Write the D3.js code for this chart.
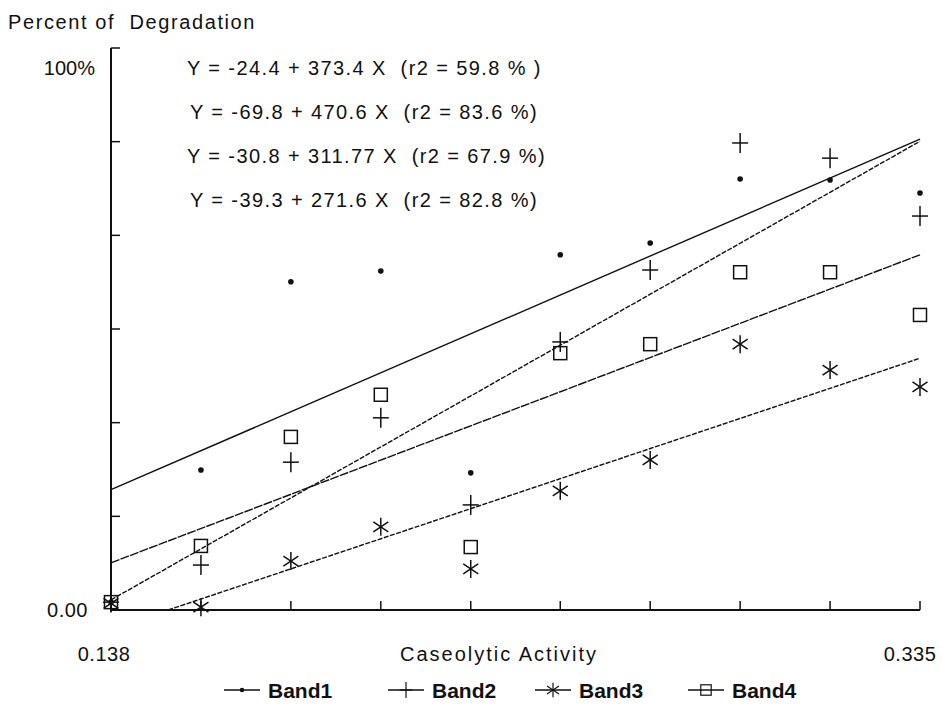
<!DOCTYPE html>
<html>
<head>
<meta charset="utf-8">
<script src="https://cdn.jsdelivr.net/npm/d3@7"></script>
<style>
  html, body { margin: 0; padding: 0; background: #fff; }
  svg { display: block; }
  text { font-family: "Liberation Sans", Arial, sans-serif; fill: #111; }
</style>
</head>
<body>
<svg id="chart" width="942" height="714"></svg>
<script>
// Caseolytic activity (x) for the ten samples
const activity = [0.138, 0.1599, 0.1818, 0.2037, 0.2256, 0.2474, 0.2693, 0.2912, 0.3131, 0.335];

// Percent of degradation per band
const band1 = [1.4, 24.9, 58.4, 60.3, 24.4, 63.2, 65.3, 76.7, 76.5, 74.2];
const band2 = [1.4, 8.0, 26.3, 34.2, 18.7, 47.7, 60.5, 83.1, 80.4, 70.1];
const band3 = [1.2, 0.5, 8.7, 14.8, 7.3, 21.2, 26.7, 47.3, 42.7, 39.7];
const band4 = [1.4, 11.4, 30.8, 38.3, 11.2, 45.7, 47.3, 60.1, 60.1, 52.5];

// Fitted regression lines: [x start, y start, x end, y end]
const fit1 = [0.138, 21.4, 0.335, 83.8];
const fit2 = [0.138, 1.8, 0.335, 83.4];
const fit3 = [0.1519, 0, 0.335, 44.8];
const fit4 = [0.138, 8.4, 0.335, 63.2];

const equations = [
  "Y = -24.4 + 373.4 X  (r2 = 59.8 % )",
  "Y = -69.8 + 470.6 X  (r2 = 83.6 %)",
  "Y = -30.8 + 311.77 X  (r2 = 67.9 %)",
  "Y = -39.3 + 271.6 X  (r2 = 82.8 %)"
];

const bandNames = ["Band1", "Band2", "Band3", "Band4"];

const svg = d3.select("#chart");
const x = d3.scaleLinear().domain([0.138, 0.335]).range([111, 920]);
const y = d3.scaleLinear().domain([0, 100]).range([610, 48]);

// ---- axes ----
const ax = svg.append("g").attr("stroke", "#111").attr("fill", "none");
ax.append("line").attr("x1", x(0.138)).attr("x2", x(0.138)).attr("y1", y(100)).attr("y2", y(0)).attr("stroke-width", 2);
ax.append("line").attr("x1", x(0.138)).attr("x2", x(0.335)).attr("y1", y(0)).attr("y2", y(0)).attr("stroke-width", 2);

const yTicks = d3.range(0, 7).map(i => i * 100 / 6);
yTicks.filter(v => v > 0).forEach(v => {
  ax.append("line").attr("x1", x(0.138)).attr("x2", x(0.138) + 9)
    .attr("y1", y(v)).attr("y2", y(v)).attr("stroke-width", 1.5);
});
activity.slice(1).forEach(v => {
  ax.append("line").attr("x1", x(v)).attr("x2", x(v))
    .attr("y1", y(0)).attr("y2", y(0) - 9).attr("stroke-width", 1.5);
});

// ---- fitted lines ----
const fits = [fit1, fit2, fit3, fit4];
const dashes = [null, "5,1.5", "5,1.5", "9,1.2"];
fits.forEach((f, i) => {
  svg.append("line")
    .attr("x1", x(f[0])).attr("y1", y(f[1]))
    .attr("x2", x(f[2])).attr("y2", y(f[3]))
    .attr("stroke", "#111").attr("stroke-width", 1.4)
    .attr("stroke-dasharray", dashes[i]);
});

// ---- markers ----
function marker(g, kind, cx, cy, sc = 1) {
  const s = g.append("g").attr("transform", `translate(${cx},${cy}) scale(${sc})`)
    .attr("stroke", "#111").attr("stroke-width", 1.5).attr("fill", "none");
  if (kind === 0) {
    s.append("circle").attr("r", 2.8).attr("fill", "#111").attr("stroke", "none");
  } else if (kind === 1) {
    s.append("line").attr("x1", -8).attr("x2", 8);
    s.append("line").attr("y1", -10).attr("y2", 10);
  } else if (kind === 2) {
    s.append("line").attr("y1", -9).attr("y2", 9);
    s.append("line").attr("x1", -7.5).attr("y1", -5).attr("x2", 7.5).attr("y2", 5);
    s.append("line").attr("x1", -7.5).attr("y1", 5).attr("x2", 7.5).attr("y2", -5);
  } else {
    s.append("rect").attr("x", -6.5).attr("y", -6.5).attr("width", 13).attr("height", 13);
  }
}

const series = [band1, band2, band3, band4];
const mk = svg.append("g");
series.forEach((vals, k) => {
  vals.forEach((v, i) => marker(mk, k, x(activity[i]), y(v)));
});

// ---- text ----
svg.append("text").attr("x", 8).attr("y", 29).attr("font-size", 20)
  .attr("letter-spacing", 1.6).style("white-space", "pre").text("Percent of  Degradation");
svg.append("text").attr("x", 95).attr("y", 75).attr("font-size", 20)
  .attr("text-anchor", "end").text("100%");
svg.append("text").attr("x", 88).attr("y", 617).attr("font-size", 20)
  .attr("text-anchor", "end").attr("letter-spacing", 0.5).text("0.00");
svg.append("text").attr("x", 104).attr("y", 661).attr("font-size", 20)
  .attr("text-anchor", "middle").attr("letter-spacing", 0.5).text("0.138");
svg.append("text").attr("x", 910).attr("y", 661).attr("font-size", 20)
  .attr("text-anchor", "middle").attr("letter-spacing", 0.5).text("0.335");
svg.append("text").attr("x", 499).attr("y", 661).attr("font-size", 20)
  .attr("text-anchor", "middle").attr("letter-spacing", 2).text("Caseolytic Activity");

const eqX = [187, 190, 187, 190];
const eqY = [75, 119, 163, 207];
equations.forEach((t, i) => {
  svg.append("text").attr("x", eqX[i]).attr("y", eqY[i]).attr("font-size", 20)
    .attr("letter-spacing", 1.4).style("white-space", "pre").text(t);
});

// ---- legend ----
const legX = [224, 388, 535, 688];
const lg = svg.append("g");
bandNames.forEach((n, i) => {
  const ly = 690;
  lg.append("line").attr("x1", legX[i]).attr("x2", legX[i] + 36)
    .attr("y1", ly).attr("y2", ly).attr("stroke", "#111").attr("stroke-width", 1.5);
  marker(lg, i, legX[i] + 18, ly, 0.8);
  lg.append("text").attr("x", legX[i] + 44).attr("y", ly + 8)
    .attr("font-size", 21).attr("font-weight", "bold").text(n);
});
</script>
</body>
</html>
